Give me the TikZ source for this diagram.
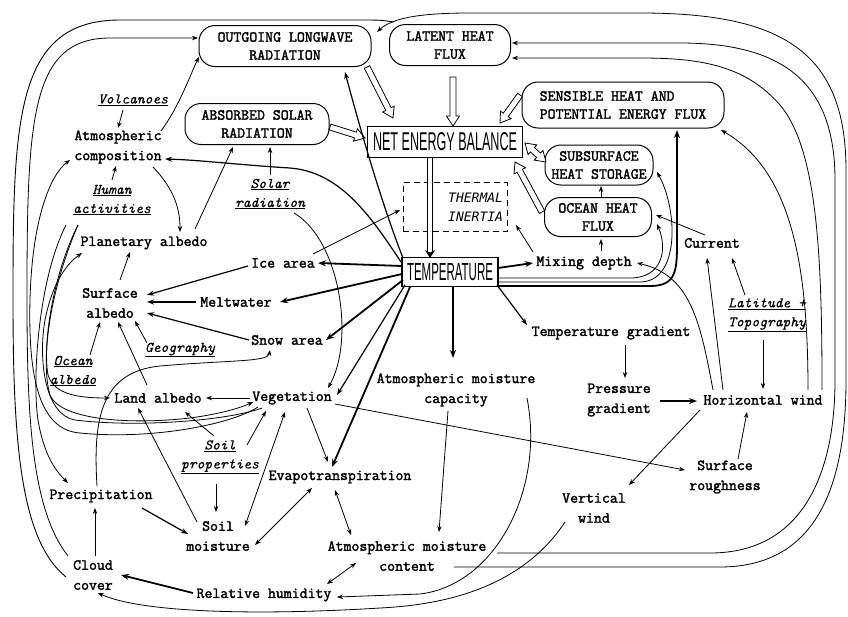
\documentclass[tikz,border=0pt]{standalone}
\usepackage{fontspec}
\usepackage{graphicx}
\usetikzlibrary{arrows.meta,calc}
\newfontfamily\lblfont{Latin Modern Mono}[FakeBold=2]
\newfontfamily\extfont{Latin Modern Mono}[FakeBold=0.3]
\newfontfamily\sansfont{Liberation Sans}
\newfontfamily\inertiafont{DejaVu Sans Mono}

% open arrows for the energy fluxes
\newcommand{\fatarrow}[2]{%
  \coordinate (fa1) at #1; \coordinate (fa2) at #2;
  \coordinate (fah) at ($(fa2)!10pt!(fa1)$);
  \draw[fat] ($(fa1)!3pt!90:(fa2)$) -- ($(fah)!3pt!90:(fa2)$) -- ($(fah)!6.5pt!90:(fa2)$) -- (fa2)
    -- ($(fah)!6.5pt!-90:(fa2)$) -- ($(fah)!3pt!-90:(fa2)$) -- ($(fa1)!3pt!-90:(fa2)$) -- cycle;}
\newcommand{\fatboth}[2]{%
  \coordinate (fa1) at #1; \coordinate (fa2) at #2;
  \coordinate (fah) at ($(fa2)!10pt!(fa1)$); \coordinate (fat) at ($(fa1)!10pt!(fa2)$);
  \draw[fat] (fa1) -- ($(fat)!6.5pt!90:(fa2)$) -- ($(fat)!3pt!90:(fa2)$) -- ($(fah)!3pt!90:(fa2)$)
    -- ($(fah)!6.5pt!90:(fa2)$) -- (fa2) -- ($(fah)!6.5pt!-90:(fa2)$) -- ($(fah)!3pt!-90:(fa2)$)
    -- ($(fat)!3pt!-90:(fa2)$) -- ($(fat)!6.5pt!-90:(fa2)$) -- cycle;}

\begin{document}
\begin{tikzpicture}[x=1pt, y=-1pt,
  lbl/.style={font=\lblfont\fontsize{15.4}{20}\selectfont, align=center, inner sep=1pt},
  ext/.style={font=\extfont\itshape\fontsize{14.8}{19}\selectfont, align=center, inner sep=1pt},
  flux/.style={draw, line width=1pt, rounded corners=16pt, inner sep=0pt, font=\lblfont\fontsize{15.4}{18}\selectfont},
  key/.style={draw, line width=1.4pt, inner sep=0pt},
  arr/.style={-{Stealth[length=6pt,width=4.5pt]}, line width=0.8pt},
  both/.style={{Stealth[length=6pt,width=4.5pt]}-{Stealth[length=6pt,width=4.5pt]}, line width=0.8pt},
  mid/.style={-{Stealth[length=7pt,width=5pt]}, line width=1.2pt},
  thk/.style={-{Stealth[length=8pt,width=6pt]}, line width=1.8pt},
  fat/.style={draw, fill=white, line width=0.8pt}]
\useasboundingbox (0,0) rectangle (848,616);

% Energy boxes
\node[flux, align=center, minimum width=172pt, minimum height=41pt] (olr) at (285,46) {OUTGOING LONGWAVE\\RADIATION};
\node[flux, align=center, minimum width=121pt, minimum height=41pt] (latent) at (450,45) {LATENT HEAT\\FLUX};
\node[flux, align=center, minimum width=144pt, minimum height=41pt] (absorbed) at (257,124) {ABSORBED SOLAR\\RADIATION};
\node[flux, align=left, minimum width=202pt, minimum height=46pt] (sensible) at (623,105) {SENSIBLE HEAT AND\\POTENTIAL ENERGY FLUX};
\node[flux, align=center, minimum width=108pt, minimum height=40pt] (subsurf) at (599,165) {SUBSURFACE\\HEAT STORAGE};
\node[flux, align=center, minimum width=107pt, minimum height=39pt] (ocean) at (598,217) {OCEAN HEAT\\FLUX};
\node[key, minimum width=155pt, minimum height=31pt] (net) at (445,142) {\resizebox{144pt}{18pt}{\sansfont NET ENERGY BALANCE}};
\node[key, minimum width=96pt, minimum height=29pt] (temp) at (450,272) {\resizebox{86pt}{17pt}{\sansfont TEMPERATURE}};
\node[draw, dash pattern=on 6pt off 4pt, line width=0.9pt, minimum height=49pt, text width=96pt, inner sep=4pt, align=right,
  font=\inertiafont\itshape\fontsize{13}{19}\selectfont] (inertia) at (455,207) {THERMAL\\INERTIA};

% Climate variables
\foreach \name/\x/\y/\txt in {atmcomp/118/147/{Atmospheric\\composition}, planalb/144/243/{Planetary albedo},
    surfalb/110/303/{Surface\\albedo}, icearea/283/263/{Ice area}, meltwater/236/302/{Meltwater},
    snowarea/287/340/{Snow area}, landalb/158/398/{Land albedo}, veget/292/398/{Vegetation},
    evapo/340/477/{Evapotranspiration}, precip/101/496/{Precipitation}, soilmoist/218/536/{Soil\\moisture},
    capacity/456/390/{Atmospheric moisture\\capacity}, content/407/556/{Atmospheric moisture\\content},
    cloud/93/575/{Cloud\\cover}, relhum/264/595/{Relative humidity}, mixing/584/263/{Mixing depth},
    current/712/243/{Current}, tempgrad/611/333/{Temperature gradient}, pressgrad/619/400/{Pressure\\gradient},
    horwind/763/400/{Horizontal wind}, roughness/725/477/{Surface\\roughness}, vertwind/594/508/{Vertical\\wind}}
  \node[lbl] (\name) at (\x,\y) {\txt};

% External factors
\foreach \name/\x/\y/\txt in {volcanoes/133/100/{\underline{Volcanoes}}, human/112/200/{\underline{Human}\\\underline{activities}},
    solar/270/194/{\underline{Solar}\\\underline{radiation}}, geography/180/350/{\underline{Geography}},
    oceanalb/73/371/{\underline{Ocean}\\\underline{albedo}}, soilprop/220/457/{\underline{Soil}\\\underline{properties}},
    latitude/767/315/{\underline{Latitude +}\\\underline{Topography}}}
  \node[ext] (\name) at (\x,\y) {\txt};

% Energy fluxes into the balance
\fatarrow{($(olr)+(82,21)$)}{($(net)+(-52,-24)$)}
\fatarrow{($(latent)+(3,32)$)}{($(net)+(8,-16)$)}
\fatarrow{($(absorbed)+(73,3)$)}{($(net)+(-80,-4)$)}
\fatarrow{($(sensible)+(-103,-10)$)}{($(net)+(55,-19)$)}
\fatarrow{($(ocean)+(-56,-5)$)}{($(net)+(70,20)$)}
\fatboth{($(net)+(80,1)$)}{($(subsurf)+(-53,-3)$)}
\draw[double, double distance=4pt, line width=0.9pt, -{Stealth[length=8pt,width=10pt]}] ($(net)+(-15,16)$) -- ($(temp)+(-20,-14)$);

% Temperature fan
\draw[thk] ($(temp)+(-48,-6)$) -- ($(icearea)+(35,0)$);
\draw[thk] ($(temp)+(-48,2)$) -- ($(meltwater)+(44,0)$);
\draw[thk] ($(temp)+(-47,8)$) -- ($(snowarea)+(39,0)$);
\draw[mid] ($(temp)+(-45,13)$) -- ($(veget)+(45,-3)$);
\draw[thk] ($(temp)+(-40,15)$) -- ($(evapo)+(-8,-10)$);
\draw[thk] ($(temp)+(3,15)$) -- ($(capacity)+(-3,-32)$);
\draw[mid] ($(temp)+(47,13)$) -- ($(tempgrad)+(-84,-8)$);
\draw[thk] ($(temp)+(48,-4)$) -- ($(mixing)+(-51,0)$);
\draw[mid] ($(temp)+(-49,-10)$) .. controls (370,215) and (340,172) .. (290,168) .. controls (240,165) and (200,160) .. ($(atmcomp)+(47,12)$);
\draw[mid] ($(temp)+(-47,-14)$) .. controls (380,200) and (355,110) .. ($(olr)+(60,26)$);
\draw[arr] ($(temp)+(48,6)$) -- (630,278) .. controls (662,278) and (668,250) .. ($(ocean)+(59,7)$);
\draw[arr] ($(temp)+(48,10)$) -- (640,282) .. controls (680,282) and (678,210) .. ($(subsurf)+(58,7)$);
\draw[thk] ($(temp)+(48,14)$) -- (650,286) .. controls (677,286) and (677,270) .. (677,240) -- ($(sensible)+(54,25)$);

% Albedo
\draw[arr] ($(icearea)+(30,-9)$) -- ($(inertia)+(-55,3)$);
\draw[mid] ($(icearea)+(-35,3)$) -- ($(surfalb)+(37,-8)$);
\draw[mid] ($(meltwater)+(-40,0)$) -- ($(surfalb)+(37,-1)$);
\draw[mid] ($(snowarea)+(-38,0)$) -- ($(surfalb)+(37,10)$);
\draw[arr] ($(geography)+(-33,-7)$) -- ($(surfalb)+(25,18)$);
\draw[arr] ($(oceanalb)+(17,-16)$) -- ($(surfalb)+(-10,19)$);
\draw[arr] ($(landalb)+(-11,-13)$) -- ($(surfalb)+(8,19)$);
\draw[arr] ($(surfalb)+(10,-23)$) -- ($(planalb)+(-14,9)$);
\draw[arr] ($(atmcomp)+(35,20)$) .. controls (175,190) and (180,210) .. ($(planalb)+(36,-11)$);
\draw[arr] ($(planalb)+(51,-14)$) -- ($(absorbed)+(-24,23)$);
\draw[arr] ($(solar)+(0,-19)$) -- ($(absorbed)+(13,23)$);
\draw[arr] ($(volcanoes)+(-10,10)$) -- ($(atmcomp)+(0,-19)$);
\draw[arr] ($(human)+(0,-20)$) -- ($(atmcomp)+(-2,19)$);
\draw[arr] ($(atmcomp)+(43,-16)$) .. controls (180,105) and (190,75) .. ($(olr)+(-86,11)$);
\draw[arr] ($(solar)+(24,19)$) .. controls (340,240) and (355,340) .. ($(veget)+(36,-10)$);

% Land surface
\draw[arr] ($(veget)+(-42,0)$) -- ($(landalb)+(48,0)$);
\draw[arr] ($(veget)+(43,6)$) -- ($(roughness)+(-40,-7)$);
\draw[arr] ($(veget)+(15,10)$) -- ($(evapo)+(-12,-15)$);
\draw[arr] ($(soilprop)+(-6,-21)$) -- ($(landalb)+(27,14)$);
\draw[arr] ($(soilprop)+(27,-12)$) -- ($(veget)+(-26,13)$);
\draw[arr] ($(soilprop)+(-4,27)$) -- ($(soilmoist)+(-2,-24)$);
\draw[arr] ($(soilmoist)+(-21,-14)$) -- ($(landalb)+(-20,10)$);
\draw[both] ($(soilmoist)+(27,-10)$) -- ($(veget)+(-7,14)$);
\draw[both] ($(evapo)+(-28,11)$) -- ($(soilmoist)+(37,9)$);
\draw[both] ($(evapo)+(-5,13)$) -- ($(content)+(-56,-21)$);
\draw[both] ($(content)+(-51,7)$) -- ($(relhum)+(63,-11)$);
\draw[arr] ($(capacity)+(-8,21)$) -- ($(content)+(32,-24)$);
\draw[arr] ($(capacity)+(71,8)$) .. controls (545,490) and (495,585) .. (420,594) -- ($(relhum)+(73,2)$);
\draw[arr] ($(vertwind)+(-29,14)$) .. controls (520,590) and (440,605) .. (380,608) .. controls (250,616) and (140,612) .. ($(cloud)+(5,18)$);
\draw[thk] ($(relhum)+(-71,-2)$) -- ($(cloud)+(28,0)$);
\draw[arr] ($(cloud)+(2,-19)$) -- ($(precip)+(-6,12)$);
\draw[mid] ($(precip)+(41,12)$) -- ($(soilmoist)+(-30,-2)$);
\draw[arr] ($(precip)+(-4,-10)$) .. controls (93,420) and (100,372) .. (160,366) .. controls (230,360) and (268,362) .. ($(snowarea)+(-17,10)$);

% Left-hand loops
\draw[arr] ($(human)+(-46,25)$) .. controls (38,280) and (32,380) .. (38,420) .. controls (44,455) and (55,470) .. ($(precip)+(-33,-13)$);
\draw[arr] ($(human)+(-34,25)$) .. controls (55,270) and (42,340) .. (48,375) .. controls (54,395) and (80,398) .. ($(landalb)+(-48,0)$);
\draw[arr] ($(human)+(-34,25)$) .. controls (50,290) and (40,360) .. (50,395) .. controls (60,420) and (130,425) .. (190,418) .. controls (220,414) and (240,408) .. ($(veget)+(-39,4)$);
\draw[arr] ($(veget)+(-34,9)$) .. controls (230,425) and (150,440) .. (80,433) .. controls (40,430) and (28,380) .. (30,300) .. controls (32,220) and (50,175) .. ($(atmcomp)+(-48,13)$);
\draw[arr] ($(veget)+(-30,10)$) .. controls (230,420) and (140,428) .. (75,420) .. controls (45,415) and (38,360) .. (45,320) .. controls (52,285) and (65,265) .. ($(planalb)+(-62,10)$);
\coordinate (jn) at (394,22);
\draw[line width=0.9pt] ($(cloud)+(-27,2)$) .. controls (20,540) and (13,440) .. (13,300) .. controls (13,120) and (15,20) .. (120,20) -- (360,20) .. controls (380,20) .. (jn);
\draw[arr] ($(cloud)+(-25,-19)$) .. controls (32,510) and (27,420) .. (27,300) .. controls (27,120) and (30,38) .. (110,38) -- ($(olr)+(-87,-8)$);

% Right-hand loops
\draw[arr] ($(content)+(47,11)$) -- (720,567) .. controls (820,567) and (846,480) .. (846,380) -- (846,170) .. controls (846,50) and (780,13) .. (640,13) -- (470,13) .. controls (420,13) and (392,18) .. ($(olr)+(92,-14)$);
\draw[arr] ($(content)+(90,-3)$) -- (710,553) .. controls (805,553) and (835,470) .. (835,380) -- (835,180) .. controls (835,80) and (780,43) .. (680,43) -- ($(latent)+(62,-2)$);
\draw[arr] ($(horwind)+(59,-10)$) .. controls (822,260) and (818,150) .. (780,105) .. controls (745,65) and (700,58) .. (640,58) -- ($(latent)+(62,13)$);
\draw[arr] ($(horwind)+(45,-10)$) .. controls (808,260) and (790,170) .. ($(sensible)+(98,25)$);
\draw[arr] ($(horwind)+(-40,-10)$) -- ($(current)+(-5,15)$);
\draw[arr] ($(horwind)+(-50,-10)$) .. controls (700,320) and (690,275) .. ($(mixing)+(53,0)$);
\draw[arr] ($(latitude)+(-22,-20)$) -- ($(current)+(20,15)$);
\draw[arr] ($(latitude)+(-4,25)$) -- ($(horwind)+(0,-11)$);
\draw[arr] ($(roughness)+(13,-18)$) -- ($(horwind)+(-16,12)$);
\draw[thk] ($(pressgrad)+(41,1)$) -- ($(horwind)+(-66,1)$);
\draw[arr] ($(tempgrad)+(14,12)$) -- ($(pressgrad)+(6,-22)$);
\draw[arr] ($(horwind)+(-63,10)$) -- ($(vertwind)+(35,-23)$);
\draw[arr] ($(current)+(-7,-8)$) -- ($(ocean)+(58,-2)$);
\draw[arr] ($(mixing)+(17,-12)$) -- ($(ocean)+(3,22)$);
\draw[arr] ($(ocean)+(3,-20)$) -- ($(subsurf)+(2,21)$);
\draw[arr] ($(mixing)+(-51,-11)$) -- ($(inertia)+(61,18)$);
\end{tikzpicture}
\end{document}
